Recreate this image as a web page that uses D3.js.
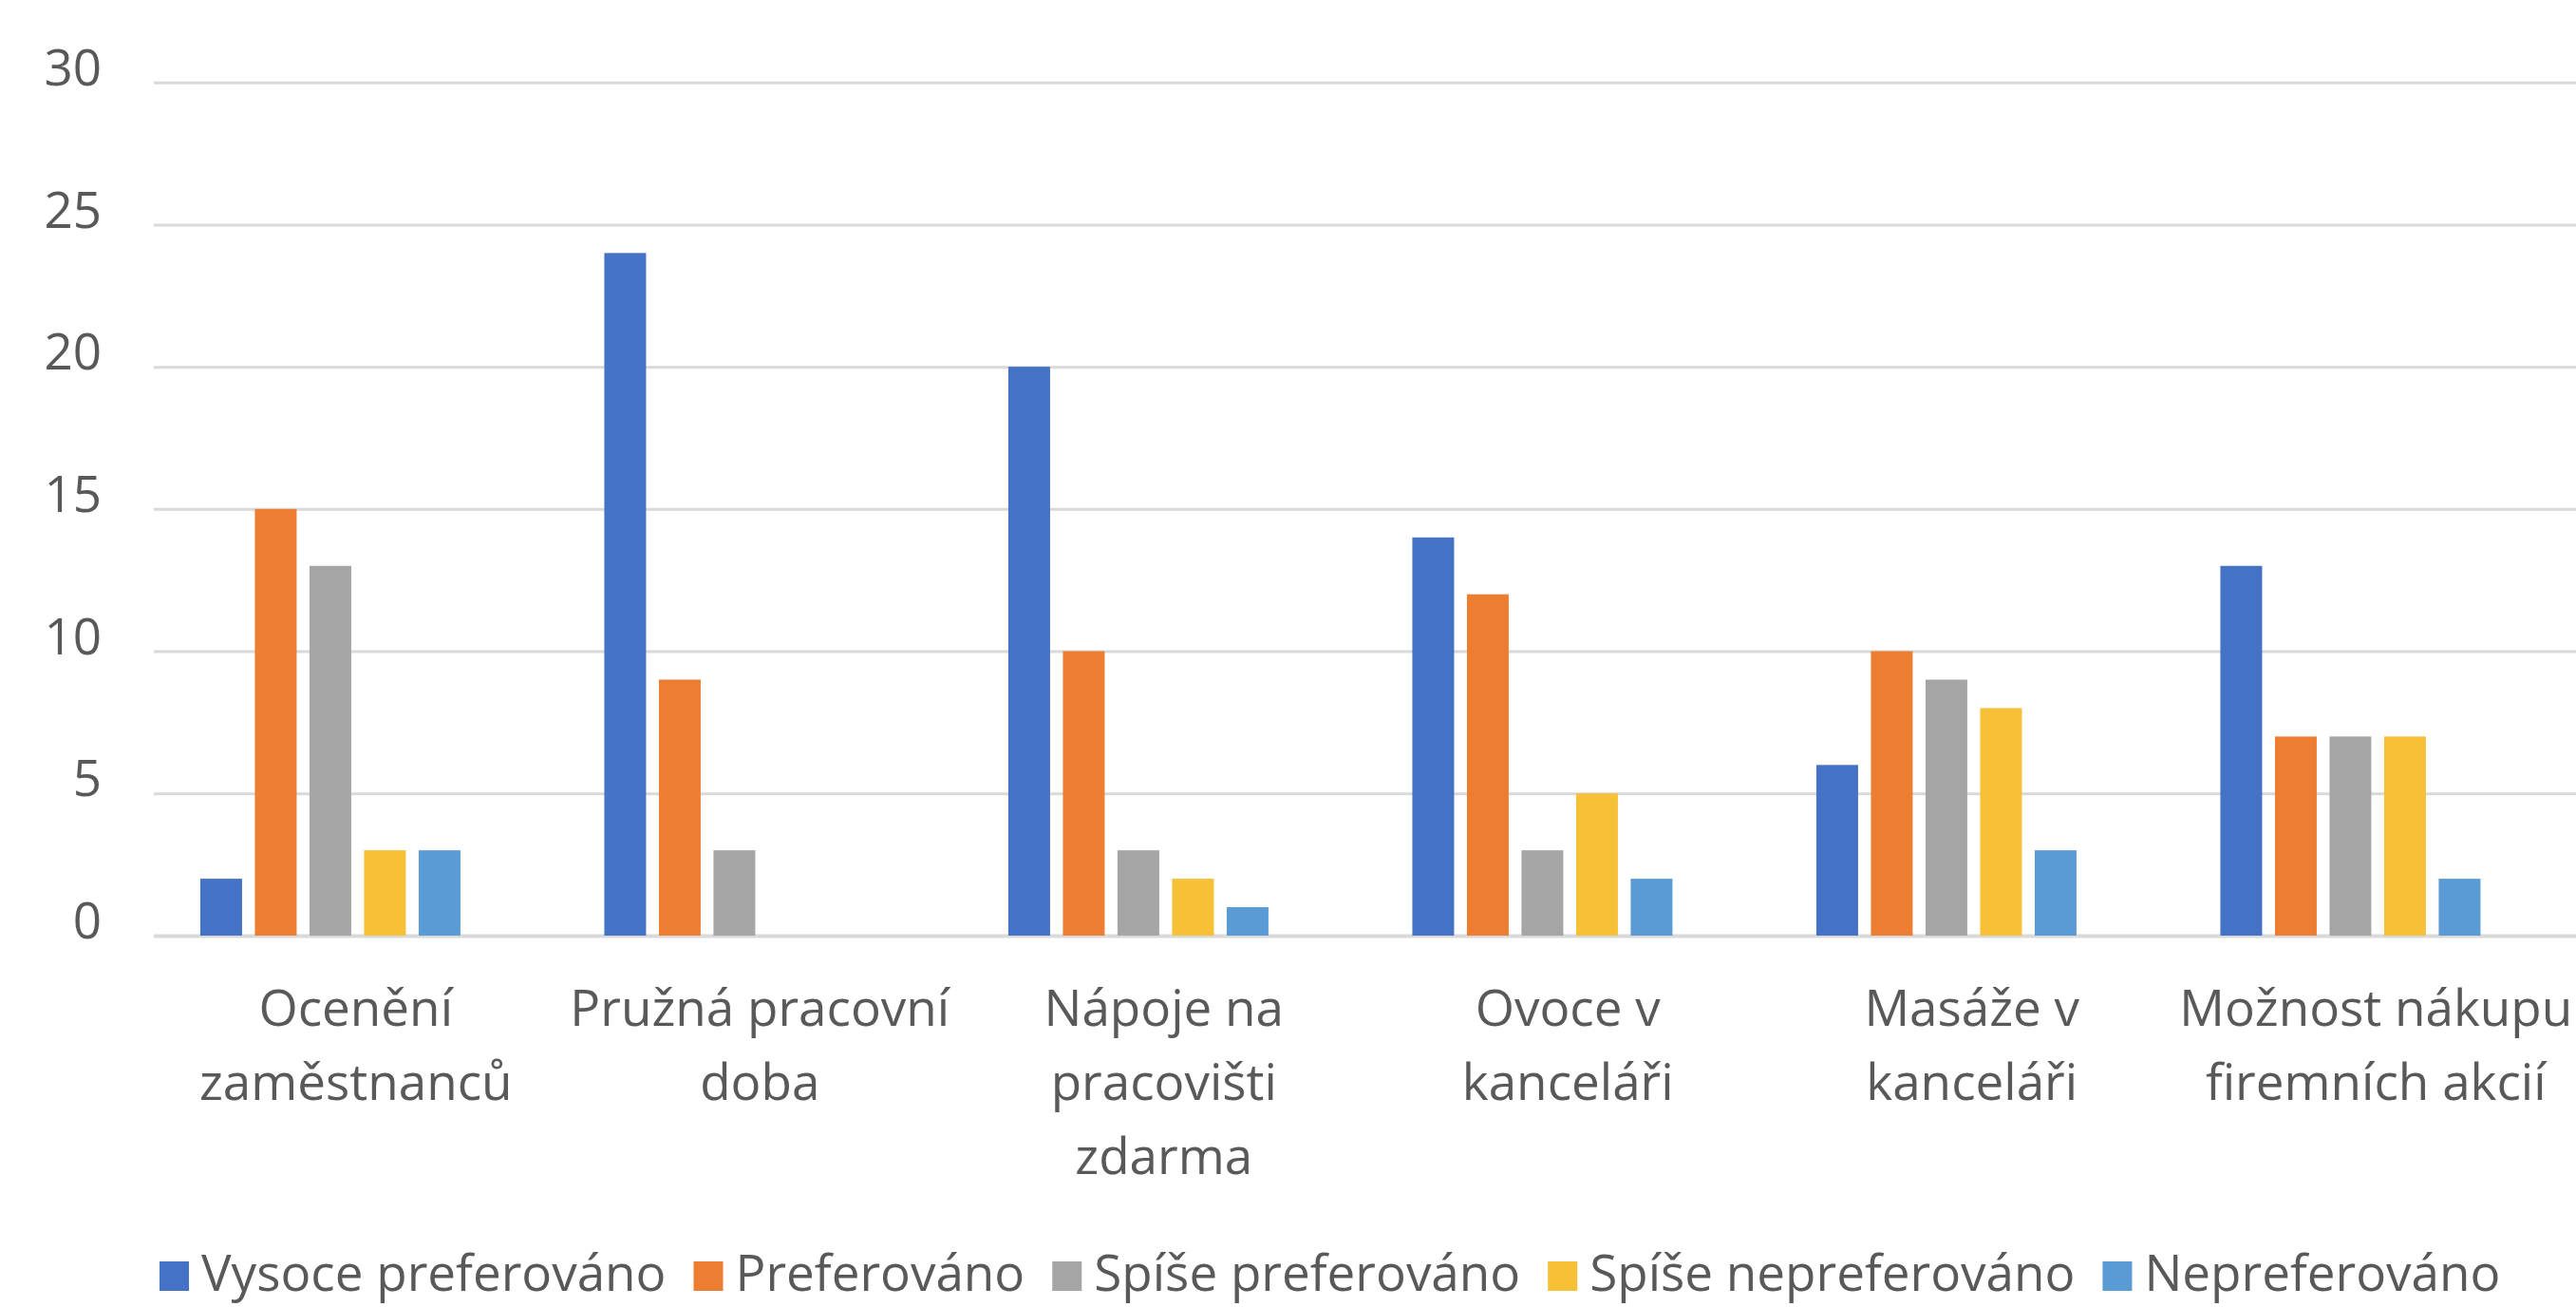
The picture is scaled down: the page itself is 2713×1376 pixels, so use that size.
<!DOCTYPE html>
<html>
<head>
<meta charset="utf-8">
<script src="https://cdn.jsdelivr.net/npm/d3@7"></script>
<style>
  html, body { margin: 0; padding: 0; background: #fff; }
  svg text { font-family: 'Open Sans', sans-serif; fill: #595959; }
</style>
</head>
<body>
<div class="benefit-chart"></div>
<script>
// kategorie (zalomení řádků podle originálu)
const categories = [
  'Ocenění\nzaměstnanců',
  'Pružná pracovní\ndoba',
  'Nápoje na\npracovišti\nzdarma',
  'Ovoce v\nkanceláři',
  'Masáže v\nkanceláři',
  'Možnost nákupu\nfiremních akcií',
];

const seriesNames = [
  'Vysoce preferováno',
  'Preferováno',
  'Spíše preferováno',
  'Spíše nepreferováno',
  'Nepreferováno',
];

// hodnoty po sériích, jedna hodnota na kategorii
const vysocePreferovano = [ 2, 24, 20, 14, 6, 13, ];
const preferovano = [ 15, 9, 10, 12, 10, 7, ];
const spisePreferovano = [ 13, 3, 3, 3, 9, 7, ];
const spiseNepreferovano = [ 3, 0, 2, 5, 8, 7, ];
const nepreferovano = [ 3, 0, 1, 2, 3, 2, ];

const yTicks = [ 0, 5, 10, 15, 20, 25, 30, ];

const seriesColors = [ '#4472C4', '#ED7D31', '#A5A5A5', '#F6C137', '#5B9BD5', ];

function drawChart() {
  const width = 2713;
  const height = 1376;
  const seriesValues = [
    vysocePreferovano,
    preferovano,
    spisePreferovano,
    spiseNepreferovano,
    nepreferovano,
  ];

  const svg = d3.select('.benefit-chart').append('svg')
    .attr('width', width)
    .attr('height', height);

  // scales
  const x0 = d3.scaleBand()
    .domain(categories)
    .range([ 162, 2715, ])
    .padding(0);

  const x1 = d3.scaleBand()
    .domain(seriesNames)
    .range([ 0, x0.bandwidth(), ])
    .paddingInner(0.235)
    .paddingOuter(1.3175)
    .align(0.323);

  const y = d3.scaleLinear()
    .domain([ 0, 30, ])
    .range([ 985, 86.7, ]);

  const color = d3.scaleOrdinal()
    .domain(seriesNames)
    .range(seriesColors);

  // gridlines + y labels
  const yAxis = d3.axisLeft(y)
    .tickValues(yTicks)
    .tickSize(-(width - 162))
    .tickPadding(55);

  const yAxisG = svg.append('g')
    .attr('transform', 'translate(162,0)')
    .call(yAxis);

  yAxisG.select('.domain').remove();
  yAxisG.selectAll('.tick line')
    .attr('stroke', '#D9D9D9')
    .attr('stroke-width', d => d === 0 ? 4 : 3);
  yAxisG.selectAll('.tick text')
    .attr('font-size', 53)
    .attr('dy', '0.05em')
    .attr('fill', '#595959');

  // bars
  const groups = svg.append('g')
    .selectAll('g')
    .data(categories)
    .enter()
    .append('g')
      .attr('transform', d => `translate(${x0(d)},0)`);

  groups.selectAll('rect')
    .data((d, i) => seriesNames.map((s, j) => ({ series: s, value: seriesValues[j][i], })))
    .enter()
    .append('rect')
      .attr('x', d => x1(d.series))
      .attr('width', x1.bandwidth())
      .attr('y', d => y(d.value))
      .attr('height', d => y(0) - y(d.value))
      .attr('fill', d => color(d.series));

  // category labels
  const labels = svg.append('g')
    .selectAll('text')
    .data(categories)
    .enter()
    .append('text')
      .attr('text-anchor', 'middle')
      .attr('font-size', 53)
      .attr('x', d => x0(d) + x0.bandwidth() / 2)
      .attr('y', 1080);

  labels.selectAll('tspan')
    .data(d => d.split('\n'))
    .enter()
    .append('tspan')
      .attr('x', function () { return d3.select(this.parentNode).attr('x'); })
      .attr('dy', (d, i) => i === 0 ? 0 : 78)
      .text(d => d);

  // legend (trochu výš, aby se nesekaly dolní tahy písmen)
  const legend = svg.append('g');
  let cursor = 168;
  seriesNames.forEach(name => {
    legend.append('rect')
      .attr('x', cursor)
      .attr('y', 1328)
      .attr('width', 31)
      .attr('height', 31)
      .attr('fill', color(name));
    const t = legend.append('text')
      .attr('x', cursor + 44)
      .attr('y', 1359)
      .attr('font-size', 53)
      .text(name);
    cursor += 44 + t.node().getComputedTextLength() + 29;
  });
}

drawChart();
</script>
</body>
</html>
